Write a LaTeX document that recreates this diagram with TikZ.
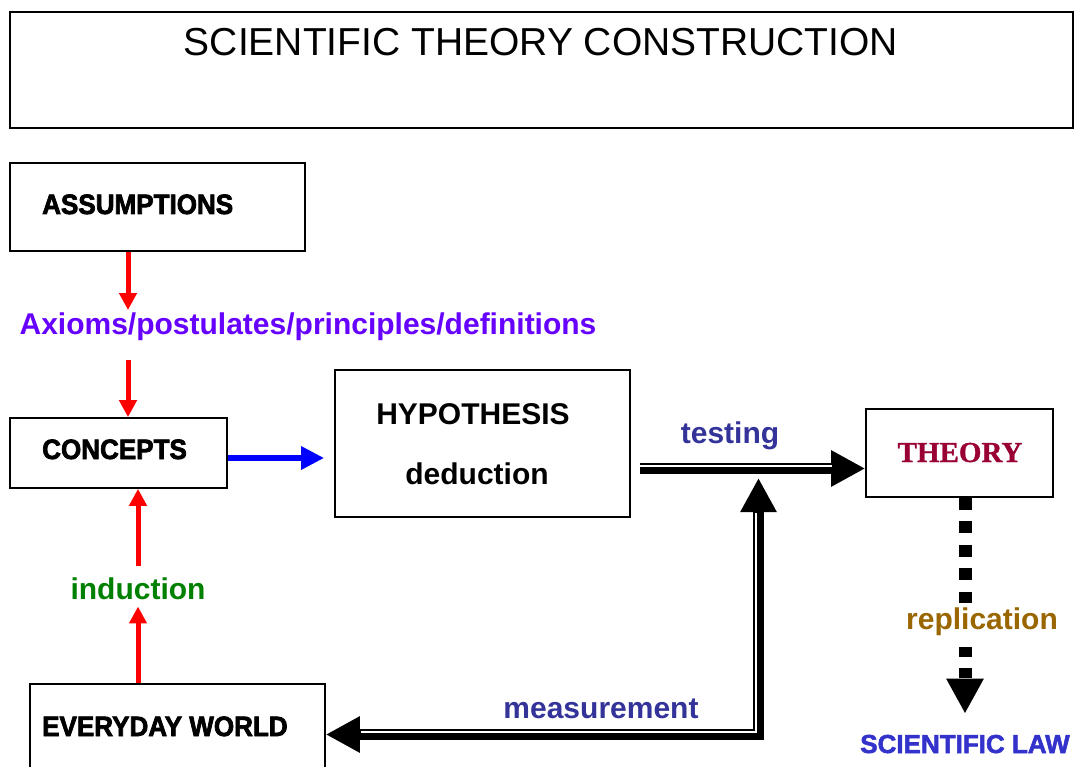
\documentclass[tikz,border=0pt]{standalone}
\usepackage{fontspec}
\setmainfont{Liberation Sans}
\newfontfamily\heavyfont[FakeStretch=0.93,FakeBold=2.5]{Liberation Sans}
\newfontfamily\lawfont[FakeBold=2]{Liberation Sans}
\newfontfamily\theoryfont[FakeBold=1]{Liberation Serif}
\usetikzlibrary{arrows.meta}

\definecolor{axiomcol}{RGB}{102,0,255}
\definecolor{testcol}{RGB}{51,51,153}
\definecolor{inductcol}{RGB}{0,128,0}
\definecolor{replcol}{RGB}{153,102,0}
\definecolor{lawcol}{RGB}{51,51,204}
\definecolor{theorycol}{RGB}{153,0,51}
\definecolor{arrowblue}{RGB}{0,0,255}

\tikzset{
  bigtip/.tip={Triangle[length=34pt,width=34pt]},
}

\begin{document}
\begin{tikzpicture}[x=1pt, y=-1pt,
    box/.style={draw, line width=1.6pt, inner sep=0pt},
    boxtext/.style={anchor=base west, inner sep=0pt, font=\heavyfont\bfseries\fontsize{28}{34}\selectfont},
    lbl/.style={anchor=base, inner sep=0pt, font=\bfseries\fontsize{30}{36}\selectfont},
    redarrow/.style={draw=red, line width=5pt, -{Triangle[length=17pt,width=17pt]}},
    bluearrow/.style={draw=arrowblue, line width=6pt, -{Triangle[length=23pt,width=22pt]}},
    bigarrow/.style={line width=11pt, -bigtip},
    gapline/.style={white, line width=2pt},
    dotline/.style={line width=13pt, dash pattern=on 12pt off 11.5pt}]
    \useasboundingbox (0,0) rectangle (1074,767);

    % boxes
    \node[box, minimum width=1063pt, minimum height=116pt] (title) at (541.5,70) {};
    \node[box, minimum width=295pt, minimum height=88pt] (assum) at (157.5,207) {};
    \node[box, minimum width=217pt, minimum height=70pt] (conc) at (118.5,453) {};
    \node[box, minimum width=295pt, minimum height=112pt] (world) at (177.5,740) {};
    \node[box, minimum width=295pt, minimum height=147pt] (hypo) at (482.5,443.5) {};
    \node[box, minimum width=187pt, minimum height=88pt] (theory) at (959.5,453) {};

    % texts in the boxes
    \node[anchor=base, inner sep=0pt, font=\fontsize{39}{47}\selectfont] (titletext) at (541,56) {SCIENTIFIC THEORY CONSTRUCTION};
    \node[boxtext] (assumtext) at (42,214) {ASSUMPTIONS};
    \node[boxtext] (conctext) at (42,459) {CONCEPTS};
    \node[boxtext] (worldtext) at (42,736) {EVERYDAY WORLD};
    \node[lbl] (hypotext) at (473,424) {HYPOTHESIS};
    \node[lbl] (deducttext) at (477,484) {deduction};
    \node[anchor=base, inner sep=0pt, font=\theoryfont\bfseries\fontsize{29}{35}\selectfont, text=theorycol] (theorytext) at (960,462) {THEORY};

    % labels
    \node[lbl, text=axiomcol] (axioms) at (308,335) {Axioms/postulates/principles/definitions};
    \node[lbl, text=testcol] (testing) at (730,443) {testing};
    \node[lbl, text=inductcol] (induct) at (138,599) {induction};
    \node[lbl, text=replcol] (repl) at (982,629) {replication};
    \node[lbl, text=testcol] (measure) at (601,718) {measurement};
    \node[anchor=base, inner sep=0pt, font=\lawfont\bfseries\fontsize{26}{31}\selectfont, text=lawcol] (law) at (965,753) {SCIENTIFIC LAW};

    \coordinate (redx) at (128,0);
    \coordinate (indx) at (138,0);
    \coordinate (replx) at (965,0);
    \coordinate (tstart) at (640,468.5);
    \coordinate (mcorner) at (758.5,734.5);
    \coordinate (mtip) at (758.5,478);

    % red and blue arrows
    \draw[redarrow, shorten >=3pt] (assum.south -| redx) -- (axioms.north -| redx);
    \draw[redarrow, shorten <=19pt] (axioms.south -| redx) -- (conc.north -| redx);
    \draw[redarrow, shorten >=7pt] (world.north -| indx) -- (induct.south -| indx);
    \draw[redarrow, shorten <=11pt] (induct.north -| indx) -- (conc.south -| indx);
    \draw[bluearrow, shorten >=10pt] ([yshift=-5pt]conc.east) -- ([yshift=-5pt]hypo.west |- conc.east);

    % testing and measurement
    \draw[bigarrow] (tstart) -- (theory.west |- tstart);
    \draw[gapline] ([yshift=2.5pt]tstart) -- ([xshift=-33pt,yshift=2.5pt]theory.west |- tstart);
    \draw[bigarrow, bigtip-bigtip] (world.east |- mcorner) -- (mcorner) -- (mtip);
    \draw[gapline] ([xshift=35pt,yshift=2.5pt]world.east |- mcorner) -- ([xshift=-2.5pt,yshift=2.5pt]mcorner) -- ([xshift=-2.5pt,yshift=-35pt]mtip);

    % replication
    \draw[dotline, shorten >=4pt] (theory.south -| replx) -- (repl.north -| replx);
    \draw[dotline, dash pattern=on 10pt off 11pt, shorten <=12pt, shorten >=21pt, -{Triangle[length=35pt,width=35pt]}] (repl.south -| replx) -- (law.north -| replx);
\end{tikzpicture}
\end{document}
